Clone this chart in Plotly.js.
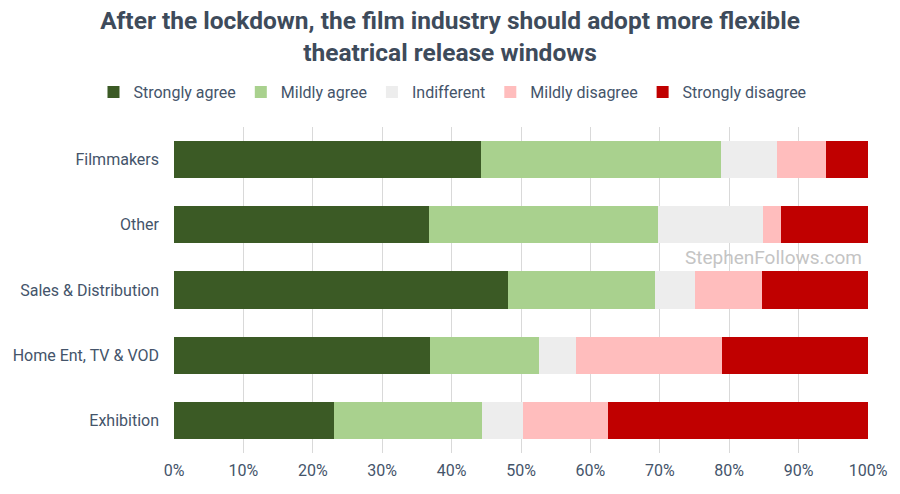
<!DOCTYPE html>
<html><head><meta charset="utf-8">
<script src="https://cdn.plot.ly/plotly-3.0.1.min.js"></script>
<style>html,body{margin:0;padding:0;background:#fff}#chart{width:900px;height:494px}</style>
</head><body><div id="chart"></div>
<script>
const categories = ["Filmmakers", "Other", "Sales & Distribution", "Home Ent, TV & VOD", "Exhibition"];
const seriesNames = ["Strongly agree", "Mildly agree", "Indifferent", "Mildly disagree", "Strongly disagree"];
const stronglyAgree    = [44.2, 36.8, 48.1, 36.9, 23.0];
const mildlyAgree      = [34.6, 32.9, 21.2, 15.7, 21.4];
const indifferent      = [8.1, 15.2, 5.7, 5.3, 5.9];
const mildlyDisagree   = [7.0, 2.5, 9.7, 21.1, 12.3];
const stronglyDisagree = [6.1, 12.6, 15.3, 21.0, 37.4];
const colors = ["#3b5a25", "#a9d18e", "#ededed", "#ffbdbd", "#c00000"];
const xTickVals = [0,10,20,30,40,50,60,70,80,90,100];
const xTickText = xTickVals.map(v => v + "%");

const allSeries = [stronglyAgree, mildlyAgree, indifferent, mildlyDisagree, stronglyDisagree];
const traces = allSeries.map((vals, i) => ({
  type: "bar", orientation: "h", name: seriesNames[i],
  y: categories, x: vals,
  marker: {color: colors[i], line: {width: 0}},
  hoverinfo: "name+x"
}));

const layout = {
  width: 900, height: 494,
  margin: {l: 174, r: 32, t: 127, b: 41},
  barmode: "stack", bargap: 0.43,
  paper_bgcolor: "#fff", plot_bgcolor: "#fff",
  font: {family: "Roboto, sans-serif", color: "#44546a"},
  title: {text: "<b>After the lockdown, the film industry should adopt more flexible<br>theatrical release windows</b>",
          x: 0.5, xref: "container", xanchor: "center", y: 0.941, yref: "container", yanchor: "middle",
          font: {size: 24.5, color: "#3e4b5b", family: "Roboto, sans-serif"}},
  showlegend: true,
  legend: {orientation: "h", xref: "paper", x: -0.116, xanchor: "left", yref: "paper", y: 1.107, yanchor: "middle",
           font: {size: 16, color: "#44546a"}, traceorder: "normal", itemwidth: 30},
  xaxis: {range: [0, 100], tickvals: xTickVals, ticktext: xTickText, tickangle: 0,
          showgrid: true, gridcolor: "#d9d9d9", gridwidth: 1, zeroline: false, automargin: false,
          showline: false, ticks: "", ticklabelstandoff: 6, tickfont: {size: 16, color: "#44546a"}, fixedrange: true},
  yaxis: {autorange: "reversed", showgrid: false, showline: false, ticks: "",
          ticklabelstandoff: 14, tickfont: {size: 16, color: "#44546a"}, automargin: false, fixedrange: true},
  annotations: [{text: "StephenFollows.com", xref: "paper", yref: "paper", x: 1, xanchor: "right", xshift: -4,
                 y: 0.6, yanchor: "middle", showarrow: false,
                 font: {size: 19, color: "#c4c4c4", family: "Roboto, sans-serif"}}]
};
Plotly.newPlot("chart", traces, layout, {displayModeBar: false, staticPlot: true});
</script></body></html>
